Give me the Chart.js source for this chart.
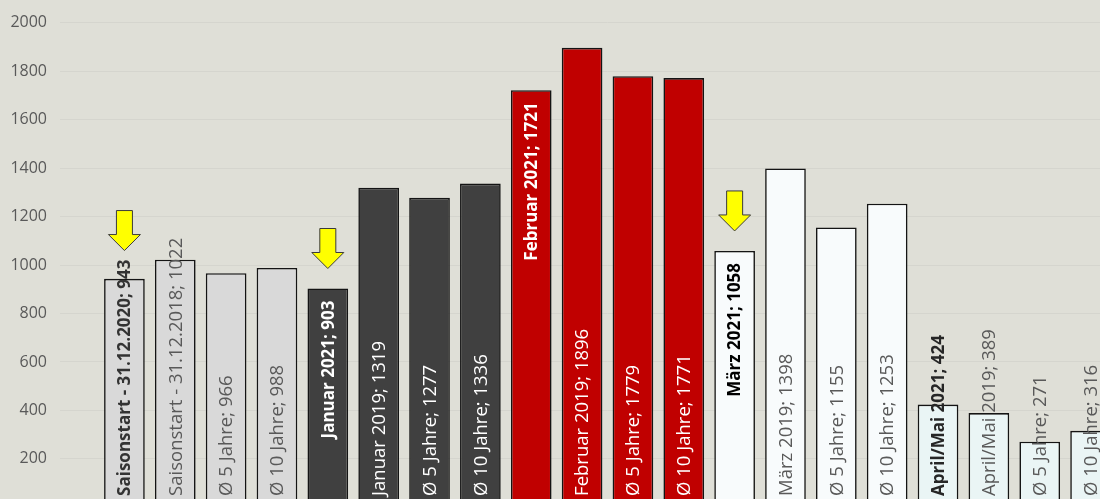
<!DOCTYPE html>
<html>
<head>
<meta charset="utf-8">
<script src="https://cdn.jsdelivr.net/npm/chart.js@4/dist/chart.umd.min.js"></script>
<style>
  html, body { margin: 0; padding: 0; overflow: hidden; background: #dfdfd7; }
  #wrap { width: 1120px; height: 530px; }
</style>
</head>
<body>
<div id="wrap"><canvas id="snowChart"></canvas></div>
<script>
// categories + values (Schneehöhe / season comparison)
const categories = [
  'Saisonstart - 31.12.2020', 'Saisonstart - 31.12.2018', 'Ø 5 Jahre', 'Ø 10 Jahre',
  'Januar 2021', 'Januar 2019', 'Ø 5 Jahre', 'Ø 10 Jahre',
  'Februar 2021', 'Februar 2019', 'Ø 5 Jahre', 'Ø 10 Jahre',
  'März 2021', 'März 2019', 'Ø 5 Jahre', 'Ø 10 Jahre',
  'April/Mai 2021', 'April/Mai 2019', 'Ø 5 Jahre', 'Ø 10 Jahre'
];
const values = [943, 1022, 966, 988, 903, 1319, 1277, 1336, 1721, 1896, 1779, 1771, 1058, 1398, 1155, 1253, 424, 389, 271, 316];
const periods = ['saison', 'saison', 'saison', 'saison', 'jan', 'jan', 'jan', 'jan',
  'feb', 'feb', 'feb', 'feb', 'maerz', 'maerz', 'maerz', 'maerz', 'april', 'april', 'april', 'april'];
// current season (2020/21) entries
const isCurrent = [true, false, false, false, true, false, false, false,
  true, false, false, false, true, false, false, false, true, false, false, false];
const arrowAt = [0, 4, 12];
const yTicks = [0, 200, 400, 600, 800, 1000, 1200, 1400, 1600, 1800, 2000];

// look
const barFill = { saison: '#d9d9d9', jan: '#404040', feb: '#c00000', maerz: '#f8fbfc', april: '#eaf5f5' };
const textNormal = { saison: '#595959', jan: '#ffffff', feb: '#ffffff', maerz: '#595959', april: '#595959' };
const textBold = { saison: '#333333', jan: '#ffffff', feb: '#ffffff', maerz: '#000000', april: '#262626' };
const FONT = '"Open Sans", "Noto Sans", sans-serif';

const labels = categories.map((c, i) => c + '; ' + values[i]);

// labels written inside the bars, rotated
const barLabels = {
  id: 'barLabels',
  afterDatasetsDraw(chart) {
    const ctx = chart.ctx;
    const meta = chart.getDatasetMeta(0);
    meta.data.forEach((bar, i) => {
      const bold = isCurrent[i];
      ctx.save();
      ctx.font = bold ? 'bold 17px ' + FONT : '18.5px ' + FONT;
      const w = ctx.measureText(labels[i]).width;
      let start = bar.base - 11;
      if (bold && bar.y + 12 + w < start) start = bar.y + 12 + w;
      bar._labelTop = start - w;
      ctx.fillStyle = bold ? textBold[periods[i]] : textNormal[periods[i]];
      ctx.translate(bar.x, start);
      ctx.rotate(-Math.PI / 2);
      ctx.textAlign = 'left';
      ctx.textBaseline = 'middle';
      ctx.fillText(labels[i], 0, 1);
      ctx.restore();
    });
  }
};

// yellow arrows pointing at this season's bars
const arrows = {
  id: 'arrows',
  afterDraw(chart) {
    const ctx = chart.ctx;
    const meta = chart.getDatasetMeta(0);
    arrowAt.forEach(i => {
      const bar = meta.data[i];
      const tip = Math.min(bar.y - 20, bar._labelTop - 9);
      const x = bar.x;
      ctx.save();
      ctx.beginPath();
      ctx.moveTo(x - 8, tip - 40);
      ctx.lineTo(x + 8, tip - 40);
      ctx.lineTo(x + 8, tip - 16);
      ctx.lineTo(x + 16, tip - 16);
      ctx.lineTo(x, tip);
      ctx.lineTo(x - 16, tip - 16);
      ctx.lineTo(x - 8, tip - 16);
      ctx.closePath();
      ctx.fillStyle = '#ffff00';
      ctx.fill();
      ctx.lineWidth = 1;
      ctx.strokeStyle = '#3a3a3a';
      ctx.stroke();
      ctx.restore();
    });
  }
};

new Chart(document.getElementById('snowChart'), {
  type: 'bar',
  data: {
    labels: categories,
    datasets: [{
      data: values,
      backgroundColor: periods.map(p => barFill[p]),
      borderColor: '#141414',
      borderWidth: 1.6,
      barPercentage: 0.8,
      categoryPercentage: 1.0
    }]
  },
  options: {
    responsive: true,
    maintainAspectRatio: false,
    animation: false,
    layout: { padding: { top: 11, bottom: 15, right: 4 } },
    plugins: { legend: { display: false }, tooltip: { enabled: false } },
    scales: {
      x: { display: false },
      y: {
        min: 0,
        max: 2000,
        afterFit: (scale) => { scale.width = 99; },
        afterBuildTicks: (scale) => { scale.ticks = yTicks.map(v => ({ value: v })); },
        grid: { color: '#d5d5ce', lineWidth: 1, tickLength: 39, tickColor: '#d5d5ce' },
        border: { display: false },
        ticks: {
          color: '#595959', padding: 13, font: { family: FONT, size: 16 },
          callback: (v) => String(v)
        }
      }
    }
  },
  plugins: [barLabels, arrows]
});
</script>
</body>
</html>
